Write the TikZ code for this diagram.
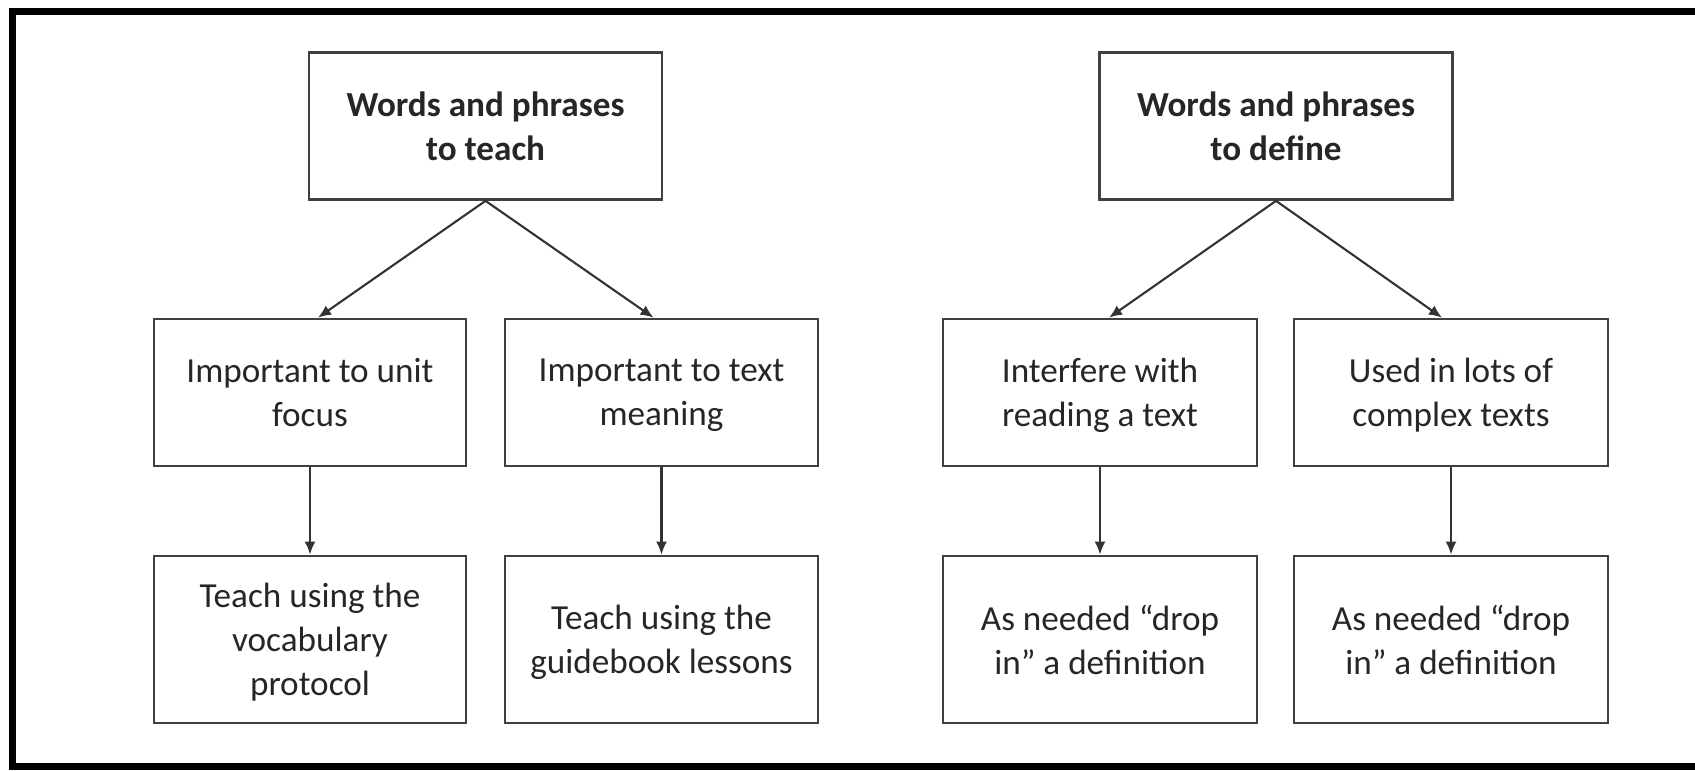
\documentclass[tikz,border=0pt]{standalone}
\usepackage{fontspec}
\setmainfont{Carlito}
\usepackage{tikz}
\usetikzlibrary{arrows.meta}

\begin{document}
\begin{tikzpicture}[x=0.01cm, y=-0.01cm,
    >={Latex[length=1.3mm,width=1.1mm]},
    every node/.style={font=\fontsize{10}{12.5}\selectfont, text=black!85, align=center, text depth=0pt},
    box/.style={draw=black!75, line width=0.75pt, rectangle, minimum height=1.47cm},
    every edge/.append style={draw=black!80, line width=0.6pt}]
    \useasboundingbox (0,0) rectangle (1695,770);
    \draw[draw=black, line width=0.07cm] (1695,12) -- (12.5,12);
    \draw[draw=black, line width=0.07cm] (12.5,8.5) -- (12.5,769.5);
    \draw[draw=black, line width=0.07cm] (12.5,766) -- (1695,766);
    % left tree
    \node[box, minimum width=3.53cm] (A1) at (485.5,126) {\textbf{Words and phrases}\\\textbf{to teach}};
    \node[box, minimum width=3.12cm] (B1) at (310,392.5) {Important to unit\\focus};
    \node[box, minimum width=3.13cm] (B2) at (661.5,392.5) {Important to text\\meaning};
    \node[box, minimum width=3.12cm, minimum height=1.67cm] (C1) at (310,639.5) {Teach using the\\vocabulary\\protocol};
    \node[box, minimum width=3.13cm, minimum height=1.67cm] (C2) at (661.5,639.5) {Teach using the\\guidebook lessons};
    % right tree
    \node[box, minimum width=3.53cm] (A2) at (1276,126) {\textbf{Words and phrases}\\\textbf{to define}};
    \node[box, minimum width=3.14cm] (B3) at (1100,392.5) {Interfere with\\reading a text};
    \node[box, minimum width=3.14cm] (B4) at (1451,392.5) {Used in lots of\\complex texts};
    \node[box, minimum width=3.14cm, minimum height=1.67cm] (C3) at (1100,639.5) {As needed ``drop\\in'' a definition};
    \node[box, minimum width=3.14cm, minimum height=1.67cm] (C4) at (1451,639.5) {As needed ``drop\\in'' a definition};
    \path [->] (A1.south) edge ([xshift=0.08cm]B1.north);
    \path [->] (A1.south) edge ([xshift=-0.08cm]B2.north);
    \path [->] (B1) edge (C1);
    \path [->] (B2) edge (C2);
    \path [->] (A2.south) edge ([xshift=0.09cm]B3.north);
    \path [->] (A2.south) edge ([xshift=-0.09cm]B4.north);
    \path [->] (B3) edge (C3);
    \path [->] (B4) edge (C4);
\end{tikzpicture}
\end{document}
